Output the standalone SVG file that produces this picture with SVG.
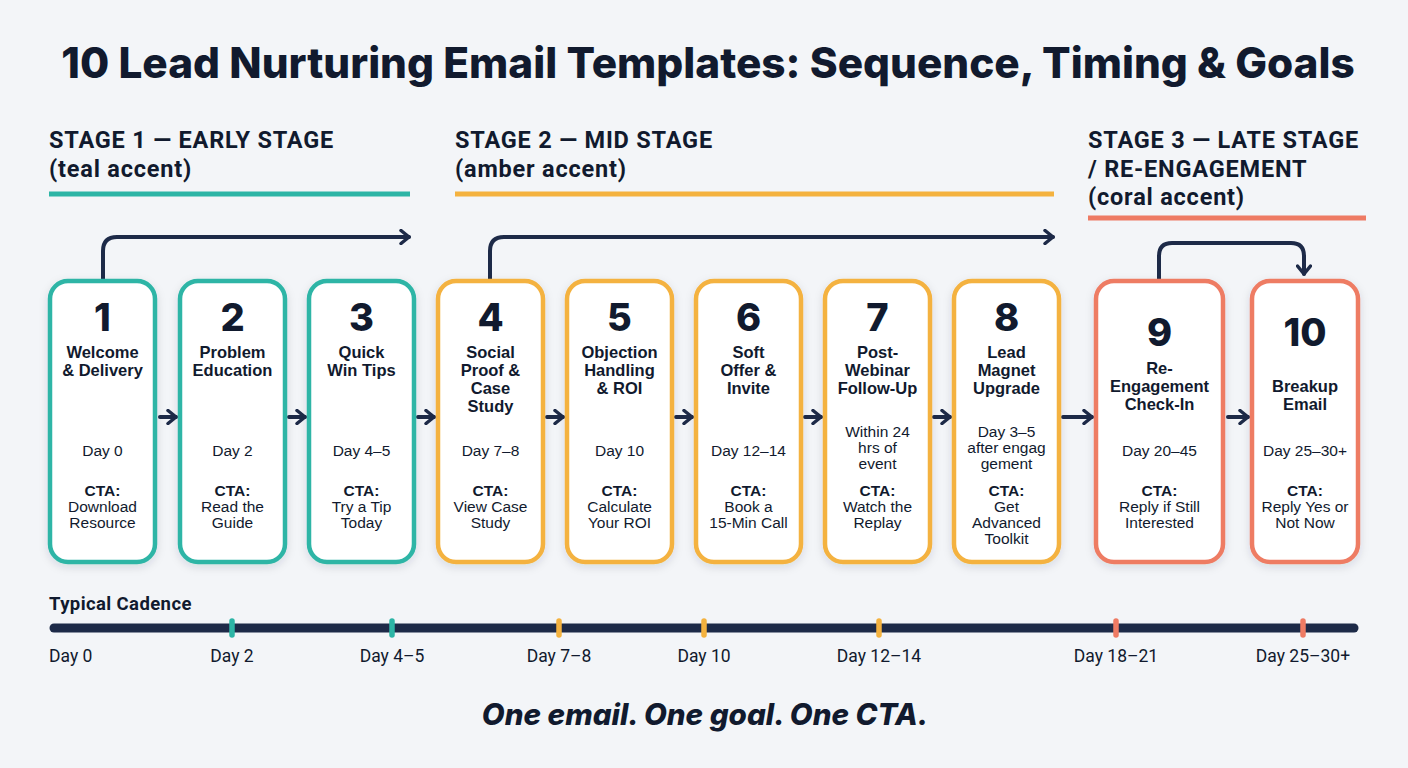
<svg xmlns="http://www.w3.org/2000/svg" width="1408" height="768" viewBox="0 0 1408 768">
<defs>
<filter id="sh" x="-20%" y="-10%" width="140%" height="125%">
<feDropShadow dx="0" dy="3" stdDeviation="4" flood-color="#1d2a48" flood-opacity="0.13"/>
</filter>
<marker id="ah" viewBox="0 0 12 16" refX="10" refY="8" markerWidth="12" markerHeight="16" markerUnits="userSpaceOnUse" orient="auto">
<path d="M2,1.5 L10,8 L2,14.5" fill="none" stroke="#1d2a48" stroke-width="3.5" stroke-linecap="round" stroke-linejoin="round"/>
</marker>
<style>
.bg{fill:#f3f5f8}
.card{fill:#ffffff;stroke-width:4.5;filter:url(#sh)}
.teal{stroke:#2db5a6}
.amber{stroke:#f4b23f}
.coral{stroke:#ee7b64}
.num{font-family:Inter,"Liberation Sans",sans-serif;font-weight:800;font-size:38px;fill:#111a2e;text-anchor:middle}
.tt{font-family:"Liberation Sans",Arial,sans-serif;font-weight:700;font-size:16.5px;fill:#111a2e;text-anchor:middle}
.bd{font-family:"Liberation Sans",Arial,sans-serif;font-size:15.5px;fill:#111a2e;text-anchor:middle}
.cta{font-family:"Liberation Sans",Arial,sans-serif;font-weight:700;font-size:15.5px;fill:#111a2e;text-anchor:middle}
.conn{fill:none;stroke:#1d2a48;stroke-width:4;stroke-linecap:round;stroke-linejoin:round}
.stage{font-family:Roboto,"Liberation Sans",sans-serif;font-weight:700;font-size:23.5px;letter-spacing:0.8px;fill:#111a2e}
.title{font-family:Inter,"Liberation Sans",sans-serif;font-weight:800;font-size:42.3px;fill:#111a2e;text-anchor:middle}
.tl{font-family:Roboto,"Liberation Sans",sans-serif;font-size:17.5px;fill:#111a2e;text-anchor:middle}
.tl0{font-family:Roboto,"Liberation Sans",sans-serif;font-size:17.5px;fill:#111a2e;text-anchor:start}
.foot{font-family:Inter,"Liberation Sans",sans-serif;font-weight:800;font-style:italic;font-size:29.6px;fill:#111a2e;text-anchor:middle}
</style>
</defs>
<rect class="bg" x="0" y="0" width="1408" height="768"/>

<text class="title" x="708" y="78">10 Lead Nurturing Email Templates: Sequence, Timing &amp; Goals</text>

<g id="stage1">
<text class="stage" x="49" y="148">STAGE 1 — EARLY STAGE</text>
<text class="stage" x="49" y="177">(teal accent)</text>
<rect x="49" y="191.5" width="361" height="5" fill="#2db5a6"/>
</g>
<g id="stage2">
<text class="stage" x="455" y="148">STAGE 2 — MID STAGE</text>
<text class="stage" x="455" y="177">(amber accent)</text>
<rect x="455" y="191.5" width="599" height="5" fill="#f4b23f"/>
</g>
<g id="stage3">
<text class="stage" x="1088" y="148">STAGE 3 — LATE STAGE</text>
<text class="stage" x="1088" y="177">/ RE-ENGAGEMENT</text>
<text class="stage" x="1088" y="205">(coral accent)</text>
<rect x="1088" y="215.5" width="278" height="5" fill="#ee7b64"/>
</g>

<g id="connectors">
<path class="conn" d="M103,279 V251 Q103,237 117,237 H409" marker-end="url(#ah)"/>
<path class="conn" d="M490,279 V251 Q490,237 504,237 H1053" marker-end="url(#ah)"/>
<path class="conn" d="M1159,279 V256 Q1159,243 1172,243 H1291 Q1304,243 1304,256 V274" marker-end="url(#ah)"/>
<path class="conn" d="M160,417 H176" marker-end="url(#ah)"/>
<path class="conn" d="M289,417 H305" marker-end="url(#ah)"/>
<path class="conn" d="M418,417 H434" marker-end="url(#ah)"/>
<path class="conn" d="M547,417 H563" marker-end="url(#ah)"/>
<path class="conn" d="M676,417 H692" marker-end="url(#ah)"/>
<path class="conn" d="M805,417 H821" marker-end="url(#ah)"/>
<path class="conn" d="M934,417 H950" marker-end="url(#ah)"/>
<path class="conn" d="M1063,417 H1092" marker-end="url(#ah)"/>
<path class="conn" d="M1228,417 H1248" marker-end="url(#ah)"/>
</g>

<g id="card1">
<rect class="card teal" x="50" y="281" width="105" height="281" rx="18"/>
<text class="num" x="102.5" y="331">1</text>
<text class="tt" x="102.5" y="358">Welcome</text>
<text class="tt" x="102.5" y="376">&amp; Delivery</text>
<text class="bd" x="102.5" y="456">Day 0</text>
<text class="cta" x="102.5" y="496">CTA:</text>
<text class="bd" x="102.5" y="512">Download</text>
<text class="bd" x="102.5" y="528">Resource</text>
</g>
<g id="card2">
<rect class="card teal" x="180" y="281" width="105" height="281" rx="18"/>
<text class="num" x="232.5" y="331">2</text>
<text class="tt" x="232.5" y="358">Problem</text>
<text class="tt" x="232.5" y="376">Education</text>
<text class="bd" x="232.5" y="456">Day 2</text>
<text class="cta" x="232.5" y="496">CTA:</text>
<text class="bd" x="232.5" y="512">Read the</text>
<text class="bd" x="232.5" y="528">Guide</text>
</g>
<g id="card3">
<rect class="card teal" x="309" y="281" width="105" height="281" rx="18"/>
<text class="num" x="361.5" y="331">3</text>
<text class="tt" x="361.5" y="358">Quick</text>
<text class="tt" x="361.5" y="376">Win Tips</text>
<text class="bd" x="361.5" y="456">Day 4–5</text>
<text class="cta" x="361.5" y="496">CTA:</text>
<text class="bd" x="361.5" y="512">Try a Tip</text>
<text class="bd" x="361.5" y="528">Today</text>
</g>
<g id="card4">
<rect class="card amber" x="438" y="281" width="105" height="281" rx="18"/>
<text class="num" x="490.5" y="331">4</text>
<text class="tt" x="490.5" y="358">Social</text>
<text class="tt" x="490.5" y="376">Proof &amp;</text>
<text class="tt" x="490.5" y="394">Case</text>
<text class="tt" x="490.5" y="412">Study</text>
<text class="bd" x="490.5" y="456">Day 7–8</text>
<text class="cta" x="490.5" y="496">CTA:</text>
<text class="bd" x="490.5" y="512">View Case</text>
<text class="bd" x="490.5" y="528">Study</text>
</g>
<g id="card5">
<rect class="card amber" x="567" y="281" width="105" height="281" rx="18"/>
<text class="num" x="619.5" y="331">5</text>
<text class="tt" x="619.5" y="358">Objection</text>
<text class="tt" x="619.5" y="376">Handling</text>
<text class="tt" x="619.5" y="394">&amp; ROI</text>
<text class="bd" x="619.5" y="456">Day 10</text>
<text class="cta" x="619.5" y="496">CTA:</text>
<text class="bd" x="619.5" y="512">Calculate</text>
<text class="bd" x="619.5" y="528">Your ROI</text>
</g>
<g id="card6">
<rect class="card amber" x="696" y="281" width="105" height="281" rx="18"/>
<text class="num" x="748.5" y="331">6</text>
<text class="tt" x="748.5" y="358">Soft</text>
<text class="tt" x="748.5" y="376">Offer &amp;</text>
<text class="tt" x="748.5" y="394">Invite</text>
<text class="bd" x="748.5" y="456">Day 12–14</text>
<text class="cta" x="748.5" y="496">CTA:</text>
<text class="bd" x="748.5" y="512">Book a</text>
<text class="bd" x="748.5" y="528">15-Min Call</text>
</g>
<g id="card7">
<rect class="card amber" x="825" y="281" width="105" height="281" rx="18"/>
<text class="num" x="877.5" y="331">7</text>
<text class="tt" x="877.5" y="358">Post-</text>
<text class="tt" x="877.5" y="376">Webinar</text>
<text class="tt" x="877.5" y="394">Follow-Up</text>
<text class="bd" x="877.5" y="437">Within 24</text>
<text class="bd" x="877.5" y="453">hrs of</text>
<text class="bd" x="877.5" y="469">event</text>
<text class="cta" x="877.5" y="496">CTA:</text>
<text class="bd" x="877.5" y="512">Watch the</text>
<text class="bd" x="877.5" y="528">Replay</text>
</g>
<g id="card8">
<rect class="card amber" x="954" y="281" width="105" height="281" rx="18"/>
<text class="num" x="1006.5" y="331">8</text>
<text class="tt" x="1006.5" y="358">Lead</text>
<text class="tt" x="1006.5" y="376">Magnet</text>
<text class="tt" x="1006.5" y="394">Upgrade</text>
<text class="bd" x="1006.5" y="437">Day 3–5</text>
<text class="bd" x="1006.5" y="453">after engag</text>
<text class="bd" x="1006.5" y="469">gement</text>
<text class="cta" x="1006.5" y="496">CTA:</text>
<text class="bd" x="1006.5" y="512">Get</text>
<text class="bd" x="1006.5" y="528">Advanced</text>
<text class="bd" x="1006.5" y="544">Toolkit</text>
</g>
<g id="card9">
<rect class="card coral" x="1096" y="281" width="127" height="281" rx="18"/>
<text class="num" x="1159.5" y="346">9</text>
<text class="tt" x="1159.5" y="374">Re-</text>
<text class="tt" x="1159.5" y="392">Engagement</text>
<text class="tt" x="1159.5" y="410">Check-In</text>
<text class="bd" x="1159.5" y="456">Day 20–45</text>
<text class="cta" x="1159.5" y="496">CTA:</text>
<text class="bd" x="1159.5" y="512">Reply if Still</text>
<text class="bd" x="1159.5" y="528">Interested</text>
</g>
<g id="card10">
<rect class="card coral" x="1252" y="281" width="106" height="281" rx="18"/>
<text class="num" x="1305" y="346">10</text>
<text class="tt" x="1305" y="392">Breakup</text>
<text class="tt" x="1305" y="410">Email</text>
<text class="bd" x="1305" y="456">Day 25–30+</text>
<text class="cta" x="1305" y="496">CTA:</text>
<text class="bd" x="1305" y="512">Reply Yes or</text>
<text class="bd" x="1305" y="528">Not Now</text>
</g>

<g id="timeline">
<text x="49" y="610" font-family="Roboto,'Liberation Sans',sans-serif" font-weight="700" font-size="18.5" letter-spacing="0.4" fill="#111a2e">Typical Cadence</text>
<line x1="54" y1="628" x2="1354" y2="628" stroke="#1d2a48" stroke-width="9" stroke-linecap="round"/>
<g stroke-width="5.5" stroke-linecap="round">
<line x1="232" y1="621" x2="232" y2="635" stroke="#2db5a6"/>
<line x1="392" y1="621" x2="392" y2="635" stroke="#2db5a6"/>
<line x1="559" y1="621" x2="559" y2="635" stroke="#f4b23f"/>
<line x1="704" y1="621" x2="704" y2="635" stroke="#f4b23f"/>
<line x1="879" y1="621" x2="879" y2="635" stroke="#f4b23f"/>
<line x1="1116" y1="621" x2="1116" y2="635" stroke="#ee7b64"/>
<line x1="1303" y1="621" x2="1303" y2="635" stroke="#ee7b64"/>
</g>
<text class="tl0" x="49" y="662">Day 0</text>
<text class="tl" x="232" y="662">Day 2</text>
<text class="tl" x="392" y="662">Day 4–5</text>
<text class="tl" x="559" y="662">Day 7–8</text>
<text class="tl" x="704" y="662">Day 10</text>
<text class="tl" x="879" y="662">Day 12–14</text>
<text class="tl" x="1116" y="662">Day 18–21</text>
<text class="tl" x="1303" y="662">Day 25–30+</text>
</g>

<text class="foot" x="705" y="725">One email. One goal. One CTA.</text>
</svg>
